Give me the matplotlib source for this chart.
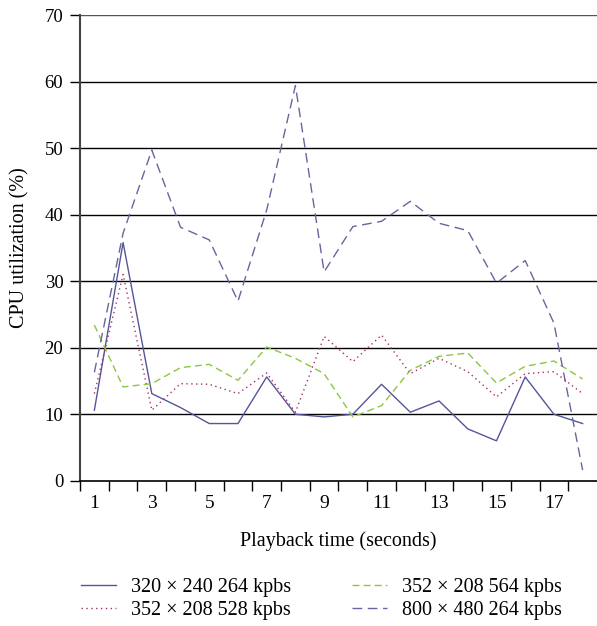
import matplotlib
matplotlib.use('Agg')
import matplotlib.pyplot as plt

plt.rcParams['font.family'] = ['Liberation Serif', 'DejaVu Serif']

# Dados
tempo = list(range(1, 19))
s_320_264 = [10.6, 35.8, 13.1, 11.0, 8.6, 8.6, 15.6, 10.0, 9.6, 10.0,
             14.5, 10.3, 12.0, 7.8, 6.0, 15.6, 10.0, 8.6]
s_352_528 = [13.1, 31.0, 10.6, 14.6, 14.5, 13.1, 16.2, 10.3, 21.7, 17.9,
             21.9, 16.1, 18.4, 16.4, 12.6, 16.1, 16.4, 13.1]
s_352_564 = [23.4, 14.1, 14.6, 17.0, 17.5, 15.1, 20.1, 18.4, 16.1, 9.6,
             11.3, 16.6, 18.7, 19.2, 14.7, 17.2, 18.0, 15.3]
s_800_264 = [16.3, 37.2, 49.7, 38.1, 36.2, 27.0, 40.7, 59.4, 31.4, 38.2,
             39.0, 42.0, 38.7, 37.6, 29.7, 33.1, 23.7, 1.6]
rotulos = ['320 × 240 264 kpbs', '352 × 208 528 kpbs',
           '352 × 208 564 kpbs', '800 × 480 264 kpbs']

fig = plt.figure(figsize=(5.97, 6.26), dpi=100)
ax = fig.add_axes([0.134, 0.232, 0.866, 0.744])

x = [t - 1 for t in tempo]
l1, = ax.plot(x, s_320_264, color='#55559a', lw=1.0, ls='-')
l2, = ax.plot(x, s_352_528, color='#a4306e', lw=1.0, ls=(0, (1, 2.5)))
l3, = ax.plot(x, s_352_564, color='#8cc63f', lw=1.0, ls=(0, (5, 3)))
l4, = ax.plot(x, s_800_264, color='#66669e', lw=1.0, ls=(0, (7, 4)))

ax.set_xlim(-0.5, 17.5)
ax.set_ylim(0, 70)
ax.set_yticks(range(0, 71, 10))
for v in range(10, 71, 10):
    ax.axhline(v, color='black' if v < 70 else '#555555', lw=1.0, zorder=0)

# ticks nas fronteiras, rótulos nos centros
ax.set_xticks([i - 0.5 for i in range(18)])
ax.set_xticklabels([])
ax.set_xticks([t - 1 for t in tempo if t % 2 == 1], minor=True)
ax.set_xticklabels([str(t) for t in tempo if t % 2 == 1], minor=True)
ax.tick_params(axis='x', which='major', direction='out', length=7, width=1)
ax.tick_params(axis='x', which='minor', length=0, pad=10, labelsize=14)
ax.tick_params(axis='y', direction='out', length=7, width=1, labelsize=13.5, pad=5)

for s in ['top', 'right']:
    ax.spines[s].set_visible(False)
ax.spines['left'].set_linewidth(1.5)
ax.spines['left'].set_color('#444444')
ax.spines['bottom'].set_linewidth(1.2)

ax.set_xlabel('Playback time (seconds)', fontsize=14.5, labelpad=14)
ax.set_ylabel('CPU utilization (%)', fontsize=14.5, labelpad=11)

fig.legend([l1, l2, l3, l4], rotulos, ncol=2, loc='upper left',
           bbox_to_anchor=(0.122, 0.09), frameon=False, fontsize=14.5,
           handlelength=1.75, handletextpad=0.75, columnspacing=3.0,
           labelspacing=0.2, borderaxespad=0)
plt.savefig('out.png', dpi=100)
